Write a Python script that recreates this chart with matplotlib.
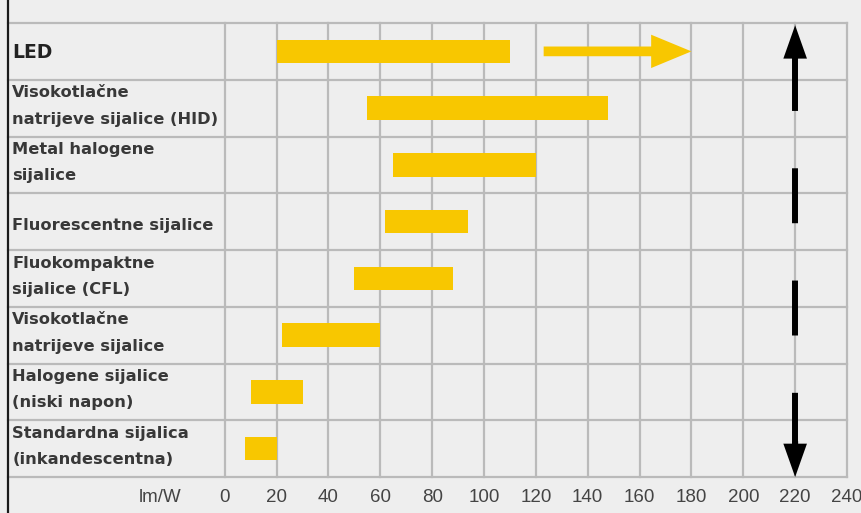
import numpy as np
import matplotlib.pyplot as plt
from matplotlib.lines import Line2D

# svjetlosna iskoristivost izvora svjetla, lm/W
lamps = ["LED",
         "Visokotlačne\nnatrijeve sijalice (HID)",
         "Metal halogene\nsijalice",
         "Fluorescentne sijalice",
         "Fluokompaktne\nsijalice (CFL)",
         "Visokotlačne\nnatrijeve sijalice",
         "Halogene sijalice\n(niski napon)",
         "Standardna sijalica\n(inkandescentna)"]
eff_low = [20, 55, 65, 62, 50, 22, 10, 8]
eff_high = [110, 148, 120, 94, 88, 60, 30, 20]
led_outlook = [123, 180]   # ocekivani rast za LED
limit_x = 220              # gornja granica (strelica gore/dolje)
xticks = list(range(0, 241, 20))

BG = "#eeeeee"
GRID = "#bababa"
YELLOW = "#f8c700"
TXT = "#383838"

fig = plt.figure(figsize=(8.61, 5.13), dpi=100, facecolor=BG)
ax = fig.add_axes([8 / 861, 36 / 513, 839 / 861, 454 / 513])
ax.set_facecolor(BG)
n = len(lamps)
rows = np.arange(n) + 0.5
ax.set_xlim(-83.6, 240)
ax.set_ylim(n, 0)

# mreza tablice
for y in range(n + 1):
    ax.axhline(y, color=GRID, lw=1.6, zorder=1, clip_on=False)
for x in xticks:
    ax.axvline(x, color=GRID, lw=1.6, zorder=1, clip_on=False)

ax.barh(rows, np.subtract(eff_high, eff_low), left=eff_low, height=0.41,
        color=YELLOW, zorder=3)

# strelica za LED
ax.annotate("", xy=(led_outlook[1], rows[0]), xytext=(led_outlook[0], rows[0]),
            arrowprops=dict(arrowstyle="simple,head_length=29,head_width=24,tail_width=7",
                            mutation_scale=1, fc=YELLOW, lw=0, shrinkA=0, shrinkB=0),
            zorder=3)

# crtkana strelica gore/dolje
head = 0.58
ax.vlines(limit_x, head, n - head, colors="black", lw=4.3,
          linestyles=(0, (9.2, 9.6)), zorder=4)
for tip, base in [(0.04, head + 0.05), (n, n - head - 0.05)]:
    ax.annotate("", xy=(limit_x, tip), xytext=(limit_x, base),
                arrowprops=dict(arrowstyle="simple,head_length=24,head_width=17,tail_width=4.3",
                                mutation_scale=1, fc="black", lw=0, shrinkA=0, shrinkB=0),
                zorder=4)

# nazivi redova
for r, name in zip(rows, lamps):
    lines = name.split("\n")
    if name == "LED":
        ax.text(0.005, r + 0.12, name, transform=ax.get_yaxis_transform(),
                ha="left", va="baseline", fontsize=13.5, fontweight="bold",
                color="#222222")
        continue
    offs = [0.15] if len(lines) == 1 else [-0.19, 0.275]
    for line, dy in zip(lines, offs):
        ax.text(0.005, r + dy, line, transform=ax.get_yaxis_transform(),
                ha="left", va="baseline", fontsize=11.7, fontweight="bold",
                color=TXT)

ax.set_xticks(xticks)
ax.set_xticklabels([str(v) for v in xticks], fontsize=13.5,
                   family="Liberation Sans", color="#444444")
ax.tick_params(axis="x", length=0, pad=9)
ax.set_yticks([])
for s in ax.spines.values():
    s.set_visible(False)

ax.annotate("lm/W", xy=(-16.5, 0), xycoords=("data", "axes fraction"),
            xytext=(0, -9), textcoords="offset points", ha="right", va="top",
            fontsize=13.5, family="Liberation Sans", color="#444444")

fig.add_artist(Line2D([8 / 861, 8 / 861], [0, 1], transform=fig.transFigure,
                      color="#1a1a1a", lw=1.6))

fig.savefig("out.png", dpi=100, facecolor=BG)
